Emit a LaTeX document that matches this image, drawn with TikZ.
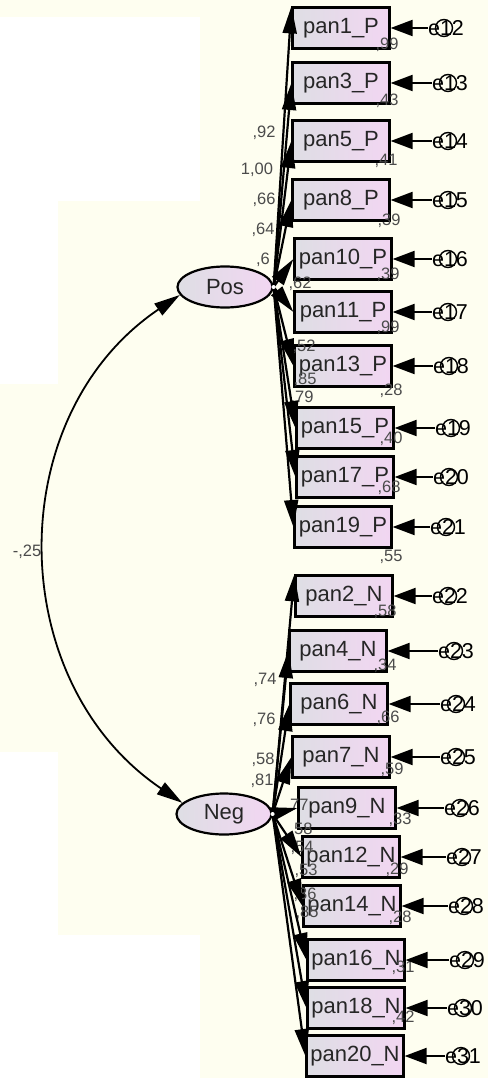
\documentclass[tikz,border=0pt]{standalone}
\usepackage{fontspec}
\setmainfont{Liberation Sans}
\usetikzlibrary{arrows.meta,shapes.geometric}

\definecolor{paper}{RGB}{254,254,240}
\definecolor{boxgrey}{RGB}{222,222,228}
\definecolor{boxpink}{RGB}{242,214,242}
\definecolor{coef}{RGB}{75,75,75}

\begin{document}
\begin{tikzpicture}[x=1pt, y=-1pt,
  obs/.style={rectangle, draw, line width=2.2pt, left color=boxgrey, right color=boxpink,
    minimum width=97pt, minimum height=41pt, inner sep=0pt, text=black!85,
    font=\fontsize{22}{24}\selectfont},
  lat/.style={ellipse, draw, line width=2.2pt, left color=boxgrey, right color=boxpink,
    minimum width=95pt, minimum height=41pt, inner sep=0pt, text=black!85,
    font=\fontsize{22}{24}\selectfont},
  err/.style={circle, draw, line width=1.4pt, minimum size=17pt, inner sep=0pt},
  elab/.style={inner sep=0pt, font=\fontsize{21.5}{24}\selectfont},
  est/.style={inner sep=0pt, text=coef, font=\fontsize{16.5}{18}\selectfont},
  load/.style={line width=2.2pt, -{Triangle[length=27pt, width=14pt]}},
  eload/.style={line width=2pt, -{Triangle[length=22pt, width=16pt]}},
  corr/.style={line width=1.8pt, {Triangle[length=26pt, width=14pt]}-{Triangle[length=26pt, width=14pt]}}]

\useasboundingbox (0,0) rectangle (488,1078);
\fill[paper] (0,0) rectangle (488,1078);
\fill[white] (0,17) rectangle (200,201);
\fill[white] (0,201) rectangle (58,384);
\fill[white] (0,752) rectangle (58,935);
\fill[white] (0,935) rectangle (200,1078);

% latent factors
\node[lat] (Pos) at (225,287) {Pos};
\node[lat] (Neg) at (224,814) {Neg};

% positive items
\node[obs] (p1) at (341,28) {pan1\_P};
\node[obs] (p3) at (341,83) {pan3\_P};
\node[obs] (p5) at (341,141) {pan5\_P};
\node[obs] (p8) at (341,200) {pan8\_P};
\node[obs] (p10) at (343,259) {pan10\_P};
\node[obs] (p11) at (343,312) {pan11\_P};
\node[obs] (p13) at (343,366) {pan13\_P};
\node[obs] (p15) at (345,428) {pan15\_P};
\node[obs] (p17) at (345,477) {pan17\_P};
\node[obs] (p19) at (343,527) {pan19\_P};

% negative items
\node[obs] (n2) at (344,596) {pan2\_N};
\node[obs] (n4) at (338,651) {pan4\_N};
\node[obs] (n6) at (339,704) {pan6\_N};
\node[obs] (n7) at (341,757) {pan7\_N};
\node[obs] (n9) at (347,808) {pan9\_N};
\node[obs] (n12) at (351,857) {pan12\_N};
\node[obs] (n14) at (352,906) {pan14\_N};
\node[obs] (n16) at (356,960) {pan16\_N};
\node[obs] (n18) at (356,1008) {pan18\_N};
\node[obs] (n20) at (355,1056) {pan20\_N};

% loadings
\node[est] (l1) at (264,133) {,92};
\node[est] (l3) at (257,170) {1,00};
\node[est] (l5) at (264,200) {,66};
\node[est] (l8) at (263,230) {,64};
\node[est] (l10) at (263,260) {,6};
\node[est] (l11) at (300,284) {,62};
\node[est] (l13) at (304,347) {,52};
\node[est] (l15) at (305,380) {,85};
\node[est] (l17) at (302,398) {,79};
\node[est] (m2) at (265,680) {,74};
\node[est] (m4) at (264,720) {,76};
\node[est] (m6) at (263,760) {,58};
\node[est] (m7) at (262,781) {,81};
\node[est] (m9) at (297,806) {,77};
\node[est] (m12) at (301,830) {,58};
\node[est] (m14) at (302,848) {,54};
\node[est] (m16) at (306,871) {,53};
\node[est] (m18) at (305,895) {,36};
\node[est] (m20) at (307,913) {,85};
\node[est] (r) at (27,552) {-,25};

% squared multiple correlations
\node[est] (s1) at (387,45) {,99};
\node[est] (s3) at (387,101) {,43};
\node[est] (s5) at (386,161) {,41};
\node[est] (s8) at (389,221) {,39};
\node[est] (s10) at (388,275) {,39};
\node[est] (s11) at (388,328) {,99};
\node[est] (s13) at (391,391) {,28};
\node[est] (s15) at (391,439) {,40};
\node[est] (s17) at (389,488) {,68};
\node[est] (s19) at (391,557) {,55};
\node[est] (t2) at (385,612) {,58};
\node[est] (t4) at (385,666) {,34};
\node[est] (t6) at (388,718) {,66};
\node[est] (t7) at (392,770) {,59};
\node[est] (t9) at (400,820) {,33};
\node[est] (t12) at (397,870) {,29};
\node[est] (t14) at (400,918) {,28};
\node[est] (t16) at (403,968) {,31};
\node[est] (t18) at (403,1018) {,42};

% factor loadings
\draw[load] (Pos.east) -- (p1.north west);
\foreach \b in {p3,p5,p8,p10,p11,p13,p15,p17,p19}
  \draw[load] (Pos.east) -- (\b.west);
\draw[load] (Neg.east) -- (n2.north west);
\foreach \b in {n4,n6,n7,n9,n12,n14,n16,n18,n20}
  \draw[load] (Neg.east) -- (\b.west);
\fill[white] (Pos.east) circle (2);
\fill[white] (Neg.east) circle (2);

% factor covariance
\draw[corr] (Pos.190) .. controls +(-179,121) and +(-179,-121) .. (Neg.165);

% error terms
\foreach \b/\n/\x/\y in {p1/12/446/28, p3/13/450/83, p5/14/450/141, p8/15/450/200,
    p10/16/450/259, p11/17/450/312, p13/18/451/366, p15/19/453/428, p17/20/451/477,
    p19/21/448/527, n2/22/450/596, n4/23/456/651, n6/24/458/704, n7/25/458/757,
    n9/26/462/808, n12/27/464/857, n14/28/466/906, n16/29/467/960, n18/30/465/1008,
    n20/31/463/1056} {
  \node[err] (e\n) at (\x-2,\y) {};
  \node[elab] (x\n) at (\x,\y) {e\n};
  \draw[eload] (x\n) -- (\b.east);
}

\end{tikzpicture}
\end{document}
